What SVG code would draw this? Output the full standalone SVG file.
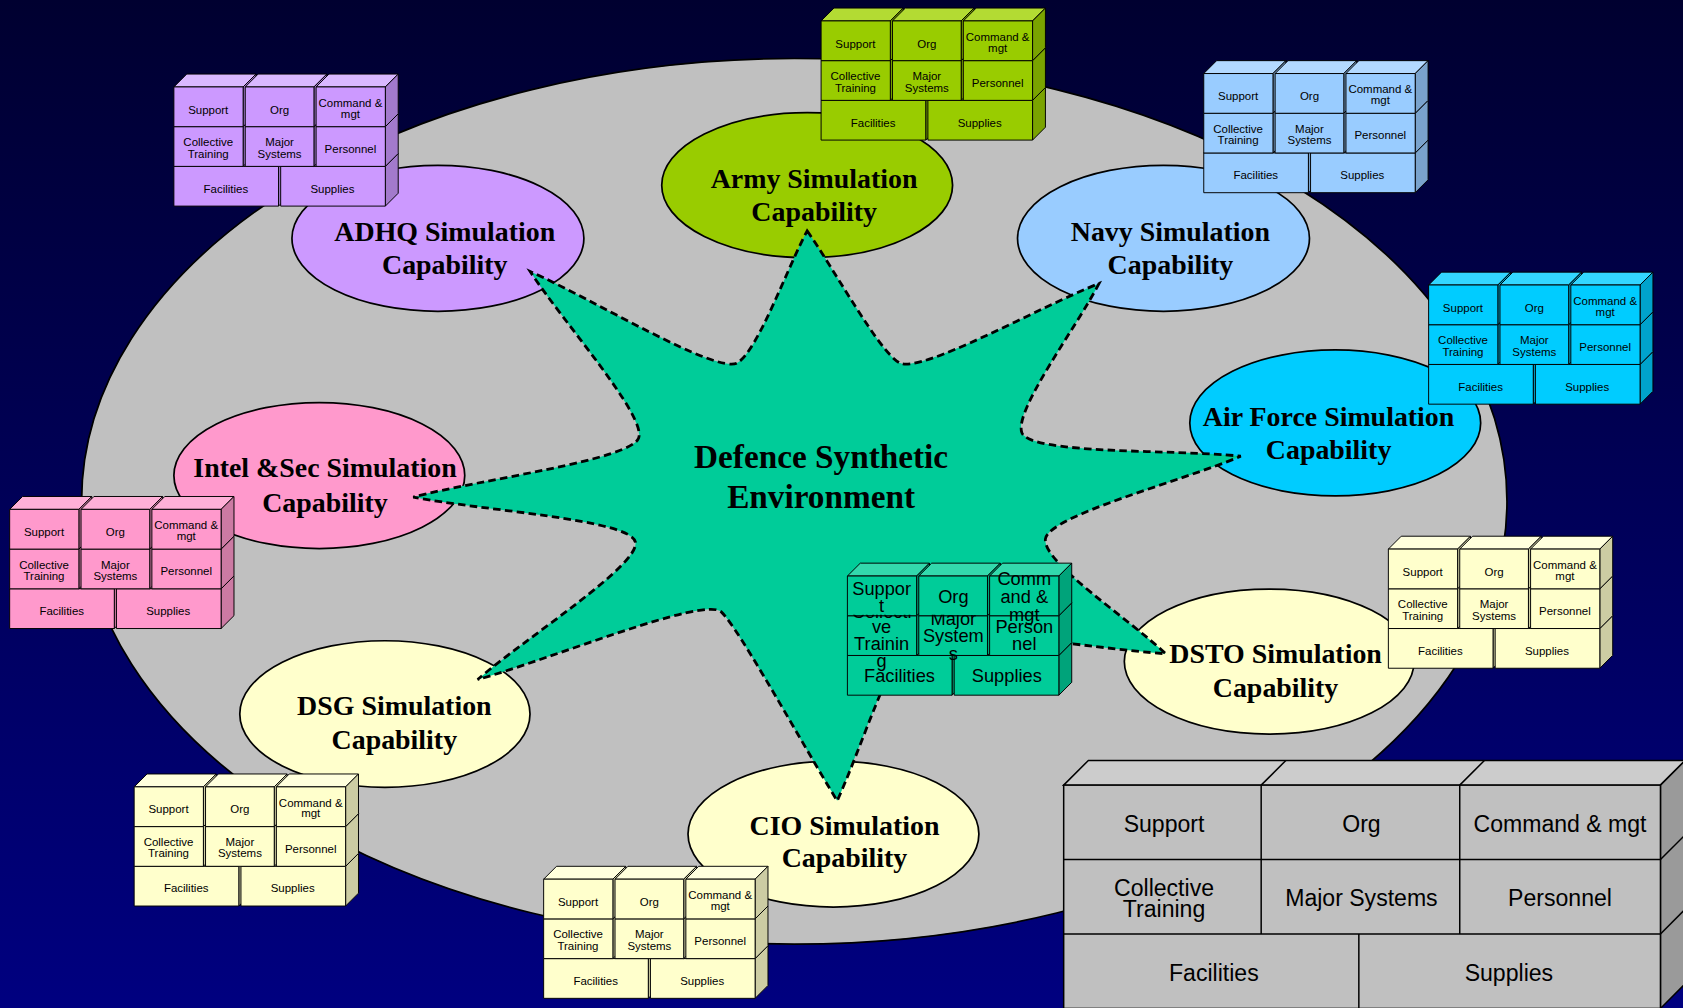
<svg xmlns="http://www.w3.org/2000/svg" width="1683" height="1008" viewBox="0 0 1683 1008">
<defs>
<linearGradient id="bg" x1="0" y1="0" x2="0" y2="1">
<stop offset="0" stop-color="#000030"/>
<stop offset="1" stop-color="#000080"/>
</linearGradient>
<clipPath id="gclip"><rect x="780" y="572.6" width="230" height="90"/></clipPath>
<style>
.cap{font-family:'Liberation Serif','Times New Roman',serif;font-weight:bold;font-size:26px;text-anchor:middle;fill:#000}
.ctr{font-family:'Liberation Serif','Times New Roman',serif;font-weight:bold;font-size:31px;text-anchor:middle;fill:#000}
.el{stroke:#000;stroke-width:1.6}
.t{fill:currentColor}
.sh{fill:#000;fill-opacity:.2;stroke:none}
.bt{font-family:'Liberation Sans',Arial,sans-serif;font-size:10.7px;text-anchor:middle;fill:#000;stroke:none}
.gt{font-family:'Liberation Sans',Arial,sans-serif;font-size:17px;text-anchor:middle;fill:#000;stroke:none}
.big{font-family:'Liberation Sans',Arial,sans-serif;font-size:21.5px;text-anchor:middle;fill:#000;stroke:none}
.star{fill:#00CC99;stroke:#000;stroke-width:2.6;stroke-dasharray:7 4}
.bb{stroke:#000;stroke-width:1.4}
</style>
<g id="blk" stroke="#000" stroke-width="0.9" stroke-linejoin="round">
<polygon class="t" points="0,74 12,62 109.5,62 97.5,74"/>
<polygon points="97.5,74 109.5,62 109.5,99 97.5,111"/><polygon class="sh" points="97.5,74 109.5,62 109.5,99 97.5,111"/>
<rect x="0" y="74" width="97.5" height="37"/>
<polygon class="t" points="99.5,74 111.5,62 209,62 197,74"/>
<polygon points="197,74 209,62 209,99 197,111"/><polygon class="sh" points="197,74 209,62 209,99 197,111"/>
<rect x="99.5" y="74" width="97.5" height="37"/>
<polygon class="t" points="0,37 12,25 76.5,25 64.5,37"/>
<polygon points="64.5,37 76.5,25 76.5,62 64.5,74"/><polygon class="sh" points="64.5,37 76.5,25 76.5,62 64.5,74"/>
<rect x="0" y="37" width="64.5" height="37"/>
<polygon class="t" points="66.5,37 78.5,25 142.5,25 130.5,37"/>
<polygon points="130.5,37 142.5,25 142.5,62 130.5,74"/><polygon class="sh" points="130.5,37 142.5,25 142.5,62 130.5,74"/>
<rect x="66.5" y="37" width="64" height="37"/>
<polygon class="t" points="132.5,37 144.5,25 209,25 197,37"/>
<polygon points="197,37 209,25 209,62 197,74"/><polygon class="sh" points="197,37 209,25 209,62 197,74"/>
<rect x="132.5" y="37" width="64.5" height="37"/>
<polygon class="t" points="0,0 12,-12 76.5,-12 64.5,0"/>
<polygon points="64.5,0 76.5,-12 76.5,25 64.5,37"/><polygon class="sh" points="64.5,0 76.5,-12 76.5,25 64.5,37"/>
<rect x="0" y="0" width="64.5" height="37"/>
<polygon class="t" points="66.5,0 78.5,-12 142.5,-12 130.5,0"/>
<polygon points="130.5,0 142.5,-12 142.5,25 130.5,37"/><polygon class="sh" points="130.5,0 142.5,-12 142.5,25 130.5,37"/>
<rect x="66.5" y="0" width="64" height="37"/>
<polygon class="t" points="132.5,0 144.5,-12 209,-12 197,0"/>
<polygon points="197,0 209,-12 209,25 197,37"/><polygon class="sh" points="197,0 209,-12 209,25 197,37"/>
<rect x="132.5" y="0" width="64.5" height="37"/>
</g>
<g id="blktxt">
<text class="bt" x="32" y="24.8">Support</text>
<text class="bt" x="98.5" y="24.8">Org</text>
<text class="bt" x="164.5" y="18.6">Command &amp;</text>
<text class="bt" x="164.5" y="28.5">mgt</text>
<text class="bt" x="32" y="55.2">Collective</text>
<text class="bt" x="32" y="65.8">Training</text>
<text class="bt" x="98.5" y="55.2">Major</text>
<text class="bt" x="98.5" y="65.8">Systems</text>
<text class="bt" x="164.5" y="61.4">Personnel</text>
<text class="bt" x="48.5" y="98.4">Facilities</text>
<text class="bt" x="147.7" y="98.4">Supplies</text>
</g>
</defs>
<rect x="0" y="0" width="1683" height="1008" fill="url(#bg)"/>
<g transform="scale(1.07334 1.07348)">
<ellipse id="environment-boundary" cx="740" cy="467" rx="664" ry="412.5" fill="#C0C0C0" stroke="#000" stroke-width="1.6"/>

<g id="node-army"><ellipse class="el" cx="752" cy="172.5" rx="135.5" ry="67.5" fill="#99CC00"/>
<text class="cap" x="758.5" y="175.5">Army Simulation</text><text class="cap" x="758.5" y="206">Capability</text></g>
<g id="node-adhq"><ellipse class="el" cx="408" cy="222" rx="136" ry="68" fill="#CC99FF"/>
<text class="cap" x="414.4" y="224.2">ADHQ Simulation</text><text class="cap" x="414.4" y="255.3">Capability</text></g>
<g id="node-navy"><ellipse class="el" cx="1084" cy="222" rx="136" ry="68" fill="#99CCFF"/>
<text class="cap" x="1090.4" y="224.2">Navy Simulation</text><text class="cap" x="1090.4" y="255.3">Capability</text></g>
<g id="node-airforce"><ellipse class="el" cx="1244" cy="394" rx="135.5" ry="68" fill="#00CCFF"/>
<text class="cap" x="1237.8" y="396.9">Air Force Simulation</text><text class="cap" x="1237.8" y="427.9">Capability</text></g>
<g id="node-intel"><ellipse class="el" cx="297.5" cy="443" rx="135.5" ry="68" fill="#FF99CC"/>
<text class="cap" x="302.8" y="444.7">Intel &amp;Sec Simulation</text><text class="cap" x="302.8" y="476.7">Capability</text></g>
<g id="node-dsg"><ellipse class="el" cx="358.6" cy="665.2" rx="135.2" ry="68.3" fill="#FFFFCC"/>
<text class="cap" x="367.4" y="665.8">DSG Simulation</text><text class="cap" x="367.4" y="697.8">Capability</text></g>
<g id="node-cio"><ellipse class="el" cx="776.5" cy="777" rx="135.5" ry="68" fill="#FFFFCC"/>
<text class="cap" x="786.8" y="778">CIO Simulation</text><text class="cap" x="786.8" y="807.5">Capability</text></g>
<g id="node-dsto"><ellipse class="el" cx="1182.5" cy="616.3" rx="135" ry="67.5" fill="#FFFFCC"/>
<text class="cap" x="1188.4" y="618">DSTO Simulation</text><text class="cap" x="1188.4" y="649">Capability</text></g>

<g id="node-dse">
<path class="star" d="M 752 215 C 777.8 251.9 818.75 327.35 838 338 C 857.25 348.65 968.2 286.2 1024 264 C 1002.4 305.7 944.6 382.3 952 403 C 959.4 423.7 1094.8 418.4 1156 425 C 1101.4 448.1 977.3 480.2 974 502 C 970.7 523.8 1052.4 576.9 1086 609 C 1015.2 603.9 868 579.4 850 592 C 832 604.6 801 699.8 780 746 C 747.6 693.2 688.1 585 672 570 C 655.9 555 513.1 614.1 445 633 C 489.1 594.6 596.4 526.6 592 505 C 587.6 483.4 447.1 475.6 385 463 C 448 446.5 587.5 428.7 595 408 C 602.6 387.3 524.3 299.5 494 253 C 551.9 278.5 668.1 349.2 687 338 C 705.9 326.8 732.5 251.9 752 215 Z"/>
<text class="ctr" x="765" y="436.3">Defence Synthetic</text>
<text class="ctr" x="765" y="473.5">Environment</text>
</g>

<g id="block-army"><use href="#blk" x="765" y="19.5" fill="#99CC00" color="#B3DB33"/><use href="#blktxt" x="765" y="19.5"/></g>
<g id="block-adhq"><use href="#blk" x="162" y="81" fill="#CC99FF" color="#D9B8FF"/><use href="#blktxt" x="162" y="81"/></g>
<g id="block-navy"><use href="#blk" x="1121.5" y="68.5" fill="#99CCFF" color="#B3D9FF"/><use href="#blktxt" x="1121.5" y="68.5"/></g>
<g id="block-airforce"><use href="#blk" x="1331" y="265.5" fill="#00CCFF" color="#33D6FF"/><use href="#blktxt" x="1331" y="265.5"/></g>
<g id="block-intel"><use href="#blk" x="9" y="474.5" fill="#FF99CC" color="#FFB0D8"/><use href="#blktxt" x="9" y="474.5"/></g>
<g id="block-dsg"><use href="#blk" x="125" y="733" fill="#FFFFCC" color="#FFFFDD"/><use href="#blktxt" x="125" y="733"/></g>
<g id="block-cio"><use href="#blk" x="506.5" y="819" fill="#FFFFCC" color="#FFFFDD"/><use href="#blktxt" x="506.5" y="819"/></g>
<g id="block-dsto"><use href="#blk" x="1293.5" y="511.5" fill="#FFFFCC" color="#FFFFDD"/><use href="#blktxt" x="1293.5" y="511.5"/></g>

<g id="block-dse">
<use href="#blk" x="789.5" y="536.6" fill="#00CC99" color="#33D9AD"/>
<text class="gt" x="838" y="635">Facilities</text>
<text class="gt" x="938" y="635">Supplies</text>
<g clip-path="url(#gclip)">
<text class="gt" x="821.4" y="576">Collecti</text>
<text class="gt" x="821.4" y="590">ve</text>
<text class="gt" x="821.4" y="605.6">Trainin</text>
<text class="gt" x="821.4" y="621">g</text>
<text class="gt" x="888.2" y="582.3">Major</text>
<text class="gt" x="888.2" y="597.8">System</text>
<text class="gt" x="888.2" y="614.9">s</text>
<text class="gt" x="954.3" y="590">Person</text>
<text class="gt" x="954.3" y="605.6">nel</text>
</g>
<text class="gt" x="821.4" y="554.3">Suppor</text>
<text class="gt" x="821.4" y="569.9">t</text>
<text class="gt" x="888.2" y="562">Org</text>
<text class="gt" x="954.3" y="545">Comm</text>
<text class="gt" x="954.3" y="562">and &amp;</text>
<text class="gt" x="954.3" y="578.3">mgt</text>
</g>

<g id="legend-block">
<polygon class="bb" points="991,731.4 1014,708.4 1570,708.4 1547,731.4" fill="#CCCCCC"/>
<line class="bb" x1="1175" y1="731.4" x2="1198" y2="708.4"/>
<line class="bb" x1="1360" y1="731.4" x2="1383" y2="708.4"/>
<polygon class="bb" points="1547,731.4 1570,708.4 1570,916.4 1547,939.4" fill="#9A9A9A"/>
<line class="bb" x1="1547" y1="800.7" x2="1570" y2="777.7"/>
<line class="bb" x1="1547" y1="870" x2="1570" y2="847"/>
<rect class="bb" x="991" y="731.4" width="556" height="208" fill="#C0C0C0"/>
<line class="bb" x1="991" y1="800.7" x2="1547" y2="800.7"/>
<line class="bb" x1="991" y1="870" x2="1547" y2="870"/>
<line class="bb" x1="1175" y1="731.4" x2="1175" y2="870"/>
<line class="bb" x1="1360" y1="731.4" x2="1360" y2="870"/>
<line class="bb" x1="1266" y1="870" x2="1266" y2="939.4"/>
<text class="big" x="1084.5" y="775.4">Support</text>
<text class="big" x="1268.4" y="775.4">Org</text>
<text class="big" x="1453.4" y="775.4">Command &amp; mgt</text>
<text class="big" x="1084.5" y="834.4">Collective</text>
<text class="big" x="1084.5" y="854.6">Training</text>
<text class="big" x="1268.4" y="843.8">Major Systems</text>
<text class="big" x="1453.4" y="843.8">Personnel</text>
<text class="big" x="1130.9" y="914.2">Facilities</text>
<text class="big" x="1405.8" y="914.2">Supplies</text>
</g>
</g>
</svg>
